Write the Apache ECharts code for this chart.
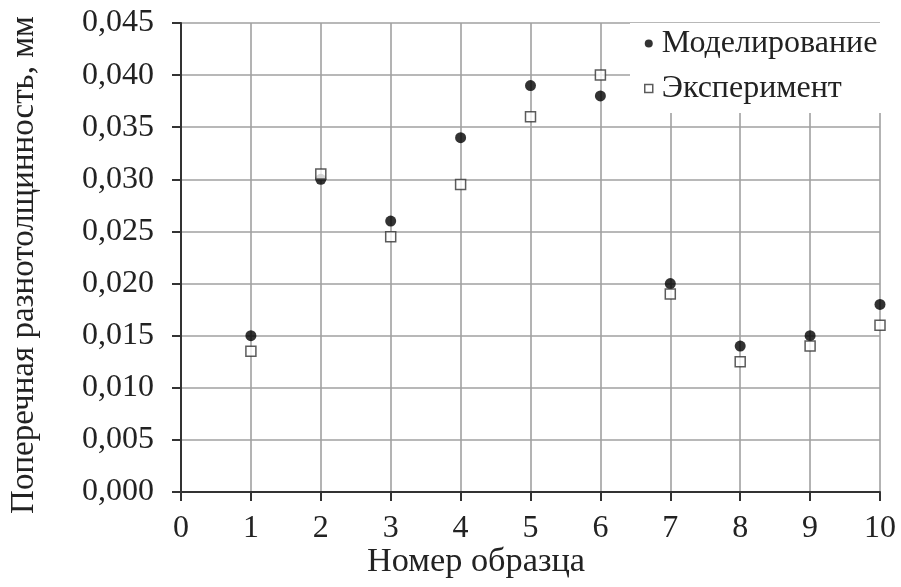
<!DOCTYPE html>
<html>
<head>
<meta charset="utf-8">
<script src="https://cdn.jsdelivr.net/npm/echarts@6/dist/echarts.min.js"></script>
<style>
  html, body { margin: 0; padding: 0; background: #fff; }
  #chart { width: 901px; height: 587px; }
</style>
</head>
<body>
<div id="chart"></div>
<script>
// Sample numbers on the horizontal axis
const samples = [1, 2, 3, 4, 5, 6, 7, 8, 9, 10];
// Transverse thickness variation, mm
const simulated = [0.015, 0.030, 0.026, 0.034, 0.039, 0.038, 0.020, 0.014, 0.015, 0.018];
const measured  = [0.0135, 0.0305, 0.0245, 0.0295, 0.036, 0.040, 0.019, 0.0125, 0.014, 0.016];

const seriesNames = ['Моделирование', 'Эксперимент'];
const xTitle = 'Номер образца';
const yTitle = 'Поперечная разнотолщинность, мм';

const serif = '"Liberation Serif", "Times New Roman", "DejaVu Serif", serif';
const textColor = '#222';

const toPoints = (vals) => samples.map((s, i) => [s, vals[i]]);

const chart = echarts.init(document.getElementById('chart'), null, { renderer: 'canvas' });

chart.setOption({
  backgroundColor: '#fff',
  animation: false,
  grid: { left: 181, right: 21, top: 23, bottom: 95, containLabel: false },
  xAxis: {
    type: 'value',
    min: 0,
    max: 10,
    interval: 1,
    axisLine: { show: true, onZero: false, lineStyle: { color: '#333', width: 2 } },
    axisTick: { show: true, inside: false, length: 9, lineStyle: { color: '#333', width: 2 } },
    axisLabel: { margin: 21, fontFamily: serif, fontSize: 32, color: textColor },
    splitLine: { show: true, lineStyle: { color: '#a0a0a0', width: 1.6 } }
  },
  yAxis: {
    type: 'value',
    min: 0,
    max: 0.045,
    interval: 0.005,
    axisLine: { show: true, lineStyle: { color: '#333', width: 2 } },
    axisTick: { show: true, inside: false, length: 9, lineStyle: { color: '#333', width: 2 } },
    axisLabel: {
      margin: 27,
      fontFamily: serif,
      fontSize: 32,
      color: textColor,
      formatter: (v) => v.toFixed(3).replace('.', ',')
    },
    splitLine: { show: true, lineStyle: { color: '#a0a0a0', width: 1.6 } }
  },
  legend: {
    orient: 'vertical',
    left: 630,
    top: 23,
    padding: [3, 4, 7, 14],
    backgroundColor: '#fff',
    itemGap: 10,
    itemWidth: 8,
    itemHeight: 8,
    textStyle: { fontFamily: serif, fontSize: 32, color: textColor, lineHeight: 35, padding: [0, 0, 0, 4] },
    data: [
      { name: seriesNames[0], icon: 'circle', itemStyle: { color: '#000', borderWidth: 0 } },
      { name: seriesNames[1], icon: 'rect', itemStyle: { color: '#fff', borderColor: '#333', borderWidth: 1.5 } }
    ]
  },
  series: [
    {
      name: seriesNames[0],
      type: 'scatter',
      data: toPoints(simulated),
      symbol: 'circle',
      symbolSize: 11,
      itemStyle: { color: '#000' },
      z: 3
    },
    {
      name: seriesNames[1],
      type: 'scatter',
      data: toPoints(measured),
      symbol: 'rect',
      symbolSize: 10,
      itemStyle: { color: '#fff', borderColor: '#333', borderWidth: 1.5 },
      z: 4
    }
  ],
  graphic: [
    {
      type: 'text',
      x: 476,
      y: 546,
      scaleX: 1.04,
      style: { text: xTitle, font: '33px ' + serif, fill: textColor, align: 'center', verticalAlign: 'top' }
    },
    {
      type: 'text',
      x: 8,
      y: 265,
      rotation: Math.PI / 2,
      style: {
        text: yTitle,
        font: '33px ' + serif,
        fill: textColor,
        align: 'center',
        verticalAlign: 'top'
      }
    }
  ]
});
</script>
</body>
</html>
